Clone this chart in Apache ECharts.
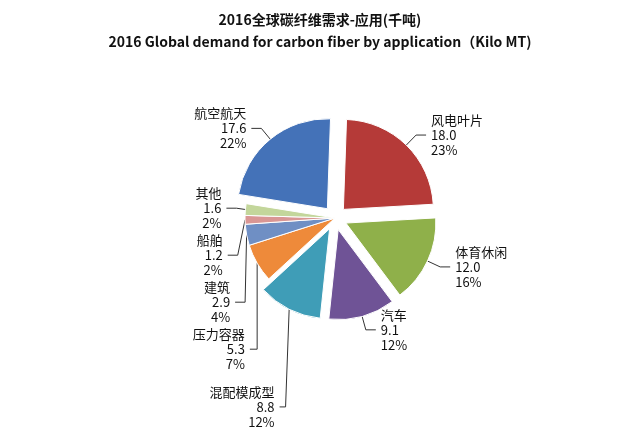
<!DOCTYPE html>
<html><head><meta charset="utf-8">
<script src="https://cdn.jsdelivr.net/npm/echarts@6/dist/echarts.min.js"></script>
<style>html,body{margin:0;padding:0;background:#fff}#c{width:640px;height:431px}</style>
</head><body><div id="c"></div>
<script>
const categories = ['风电叶片','体育休闲','汽车','混配模成型','压力容器','建筑','船舶','其他','航空航天'];
const values = [18.0, 12.0, 9.1, 8.8, 5.3, 2.9, 1.2, 1.6, 17.6];
const percents = [23, 16, 12, 12, 7, 4, 2, 2, 22];
const colors = ['#B53A38','#8FB04A','#6F5396','#3F9DB7','#EE8A3A','#6F8FC4','#D99694','#C3D69B','#4472B8'];
const exploded = [true, true, true, true, false, false, false, false, true];
const chart = echarts.init(document.getElementById('c'));
chart.setOption({
  backgroundColor:'#fff',
  title:{text:'2016全球碳纤维需求-应用(千吨)\n2016 Global demand for carbon fiber by application（Kilo MT)',
    left:'center', top:4, textStyle:{fontSize:14, fontWeight:'bold', color:'#111', lineHeight:22, fontFamily:'Noto Sans CJK SC'}},
  series:[{
    type:'pie', center:[335,218], radius:[0,90], startAngle:88, clockwise:true,
    selectedMode:'multiple', selectedOffset:12, animation:false,
    itemStyle:{borderColor:'#fff', borderWidth:1},
    label:{color:'#111', fontSize:13, lineHeight:15, align:'center', fontFamily:'Noto Sans CJK SC',
      formatter:p=>p.name+'\n'+values[p.dataIndex].toFixed(1)+'\n'+percents[p.dataIndex]+'%'},
    labelLine:{length:14, length2:10, lineStyle:{color:'#333'}},
    data: categories.map((c,i)=>({name:c, value:values[i], selected:exploded[i], itemStyle:{color:colors[i]},
      labelLine: i===3 ? {length:8, length2:6} : undefined}))
  }]
});
</script></body></html>
